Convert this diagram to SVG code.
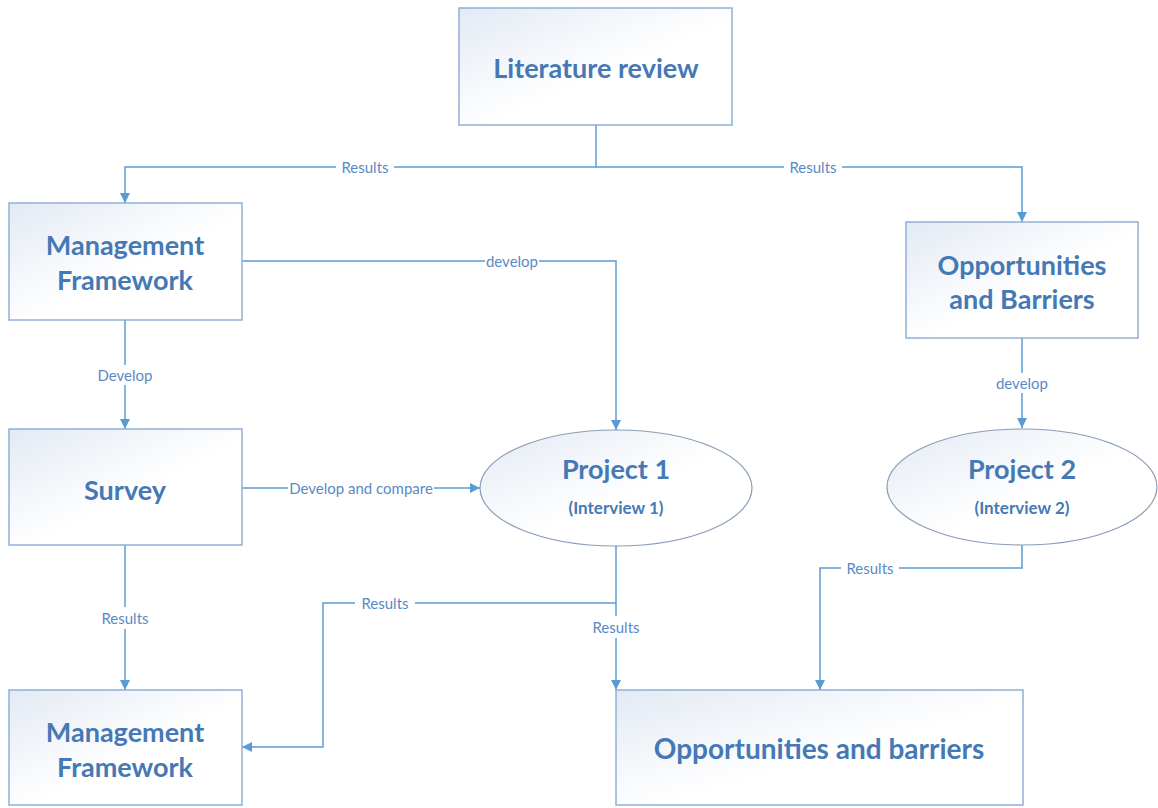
<svg xmlns="http://www.w3.org/2000/svg" width="1158" height="808" viewBox="0 0 1158 808">
<defs>
<linearGradient id="g" x1="0" y1="0" x2="1" y2="1">
<stop offset="0" stop-color="#E3EAF4"/>
<stop offset="0.55" stop-color="#FFFFFF"/>
<stop offset="1" stop-color="#FFFFFF"/>
</linearGradient>
<marker id="ah" markerWidth="10" markerHeight="10" refX="10" refY="5" orient="auto" markerUnits="userSpaceOnUse">
<path d="M0,0 L10,5 L0,10 Z" fill="#5B9BD5"/>
</marker>
<style>
.box{fill:url(#g);stroke:#8FB0D8;stroke-width:1.5}
.ell{fill:url(#g);stroke:#8A9DB8;stroke-width:1.2}
.t{font-family:Lato,"Open Sans",sans-serif;font-weight:bold;fill:#4579B5;text-anchor:middle;dominant-baseline:central}
.big{font-size:27px}
.sm{font-size:17px}
.c{fill:none;stroke:#5B9BD5;stroke-width:1.5}
.lb{fill:#FFFFFF}
.l{font-family:Lato,"Open Sans",sans-serif;font-size:15px;fill:#5A8AC6;text-anchor:middle;dominant-baseline:central}
</style>
</defs>
<rect width="1158" height="808" fill="#FFFFFF"/>
<g id="connectors">
<path class="c" d="M596,125 V167"/>
<path class="c" d="M596,167 H125 V203" marker-end="url(#ah)"/>
<path class="c" d="M596,167 H1022 V222" marker-end="url(#ah)"/>
<path class="c" d="M242,261 H616 V430" marker-end="url(#ah)"/>
<path class="c" d="M125,320 V429" marker-end="url(#ah)"/>
<path class="c" d="M1022,338 V428" marker-end="url(#ah)"/>
<path class="c" d="M242,488 H480" marker-end="url(#ah)"/>
<path class="c" d="M125,545 V690" marker-end="url(#ah)"/>
<path class="c" d="M616,546 V690" marker-end="url(#ah)"/>
<path class="c" d="M616,603 H323 V747 H242" marker-end="url(#ah)"/>
<path class="c" d="M1022,545 V568 H820 V690" marker-end="url(#ah)"/>
<rect class="lb" x="336" y="158" width="58" height="18"/>
<text class="l" x="365" y="167">Results</text>
<rect class="lb" x="784" y="158" width="58" height="18"/>
<text class="l" x="813" y="167">Results</text>
<rect class="lb" x="485" y="252" width="54" height="18"/>
<text class="l" x="512" y="261">develop</text>
<rect class="lb" x="95" y="365" width="60" height="20"/>
<text class="l" x="125" y="375">Develop</text>
<rect class="lb" x="993" y="373" width="58" height="20"/>
<text class="l" x="1022" y="383">develop</text>
<rect class="lb" x="288" y="479" width="146" height="18"/>
<text class="l" x="361" y="488">Develop and compare</text>
<rect class="lb" x="95" y="607" width="60" height="22"/>
<text class="l" x="125" y="618">Results</text>
<rect class="lb" x="586" y="616" width="60" height="22"/>
<text class="l" x="616" y="627">Results</text>
<rect class="lb" x="355" y="594" width="60" height="18"/>
<text class="l" x="385" y="603">Results</text>
<rect class="lb" x="841" y="559" width="58" height="18"/>
<text class="l" x="870" y="568">Results</text>
</g>
<g id="literature-review">
<rect class="box" x="459" y="8" width="273" height="117"/>
<text class="t big" x="596" y="67">Literature review</text>
</g>
<g id="management-framework-1">
<rect class="box" x="9" y="203" width="233" height="117"/>
<text class="t big" x="125" y="244">Management</text>
<text class="t big" x="125" y="279">Framework</text>
</g>
<g id="opportunities-barriers-1">
<rect class="box" x="906" y="222" width="232" height="116"/>
<text class="t big" x="1022" y="264">Opportunities</text>
<text class="t big" x="1022" y="298">and Barriers</text>
</g>
<g id="survey">
<rect class="box" x="9" y="429" width="233" height="116"/>
<text class="t big" x="125" y="489">Survey</text>
</g>
<g id="project-1">
<ellipse class="ell" cx="616" cy="488" rx="136" ry="58"/>
<text class="t big" x="616" y="468">Project 1</text>
<text class="t sm" x="616" y="507">(Interview 1)</text>
</g>
<g id="project-2">
<ellipse class="ell" cx="1022" cy="487" rx="135" ry="58"/>
<text class="t big" x="1022" y="468">Project 2</text>
<text class="t sm" x="1022" y="507">(Interview 2)</text>
</g>
<g id="management-framework-2">
<rect class="box" x="9" y="690" width="233" height="115"/>
<text class="t big" x="125" y="731">Management</text>
<text class="t big" x="125" y="766">Framework</text>
</g>
<g id="opportunities-barriers-2">
<rect class="box" x="616" y="690" width="407" height="115"/>
<text class="t big" x="819" y="748" style="font-size:28px">Opportunities and barriers</text>
</g>
</svg>
